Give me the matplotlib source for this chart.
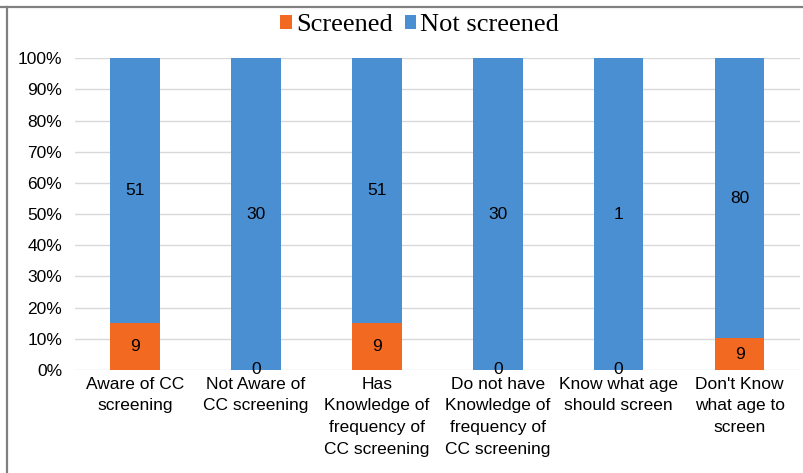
import matplotlib
matplotlib.use("Agg")
import matplotlib.pyplot as plt
import numpy as np
from matplotlib.lines import Line2D

categories = ["Aware of CC\nscreening", "Not Aware of\nCC screening",
              "Has\nKnowledge of\nfrequency of\nCC screening",
              "Do not have\nKnowledge of\nfrequency of\nCC screening",
              "Know what age\nshould screen", "Don't Know\nwhat age to\nscreen"]
screened = [9, 0, 9, 0, 0, 9]
not_screened = [51, 30, 51, 30, 1, 80]
yticks = [0, 10, 20, 30, 40, 50, 60, 70, 80, 90, 100]

orange = "#f26a21"
blue = "#4a8fd2"

s = np.array(screened, float)
n = np.array(not_screened, float)
tot = s + n
sp = s / tot * 100
npct = n / tot * 100

fig = plt.figure(figsize=(8.04, 4.73), dpi=100)
ax = fig.add_axes([0.093, 0.218, 0.902, 0.659])
x = np.arange(len(categories))
w = 0.41
b1 = ax.bar(x, sp, w, color=orange, label="Screened", zorder=3)
b2 = ax.bar(x, npct, w, bottom=sp, color=blue, label="Not screened", zorder=3)
ax.bar_label(b1, labels=[str(v) for v in screened], label_type="center",
             fontsize=12.5, family="Liberation Sans", color="black")
ax.bar_label(b2, labels=[str(v) for v in not_screened], label_type="center",
             fontsize=12.5, family="Liberation Sans", color="black")

ax.set_xlim(-0.5, len(categories) - 0.5)
ax.set_ylim(0, 100)
ax.set_yticks(yticks)
ax.set_yticklabels([f"{t}%" for t in yticks], fontsize=12.5, family="Liberation Sans")
ax.set_xticks(x)
ax.set_xticklabels(categories, fontsize=12.5, family="Liberation Sans", linespacing=1.55)
ax.tick_params(axis="both", length=0)
ax.tick_params(axis="y", pad=9)
ax.tick_params(axis="x", pad=5)
for sp_ in ax.spines.values():
    sp_.set_visible(False)
ax.grid(axis="y", color="#d9d9d9", linewidth=1, zorder=0)

leg = fig.legend(handles=[b1, b2], loc="center", bbox_to_anchor=(0.522, 0.947),
                 ncol=2, frameon=False, prop={"family": "Liberation Serif", "size": 19},
                 handlelength=0.45, handleheight=0.45, handletextpad=0.15, columnspacing=0.45)

fig.add_artist(Line2D([0, 1], [1 - 7 / 473, 1 - 7 / 473], color="#808080", linewidth=1.6,
                      transform=fig.transFigure))
fig.add_artist(Line2D([7 / 804, 7 / 804], [0, 1 - 7 / 473], color="#808080", linewidth=1.6,
                      transform=fig.transFigure))

fig.savefig("out.png", dpi=100)
